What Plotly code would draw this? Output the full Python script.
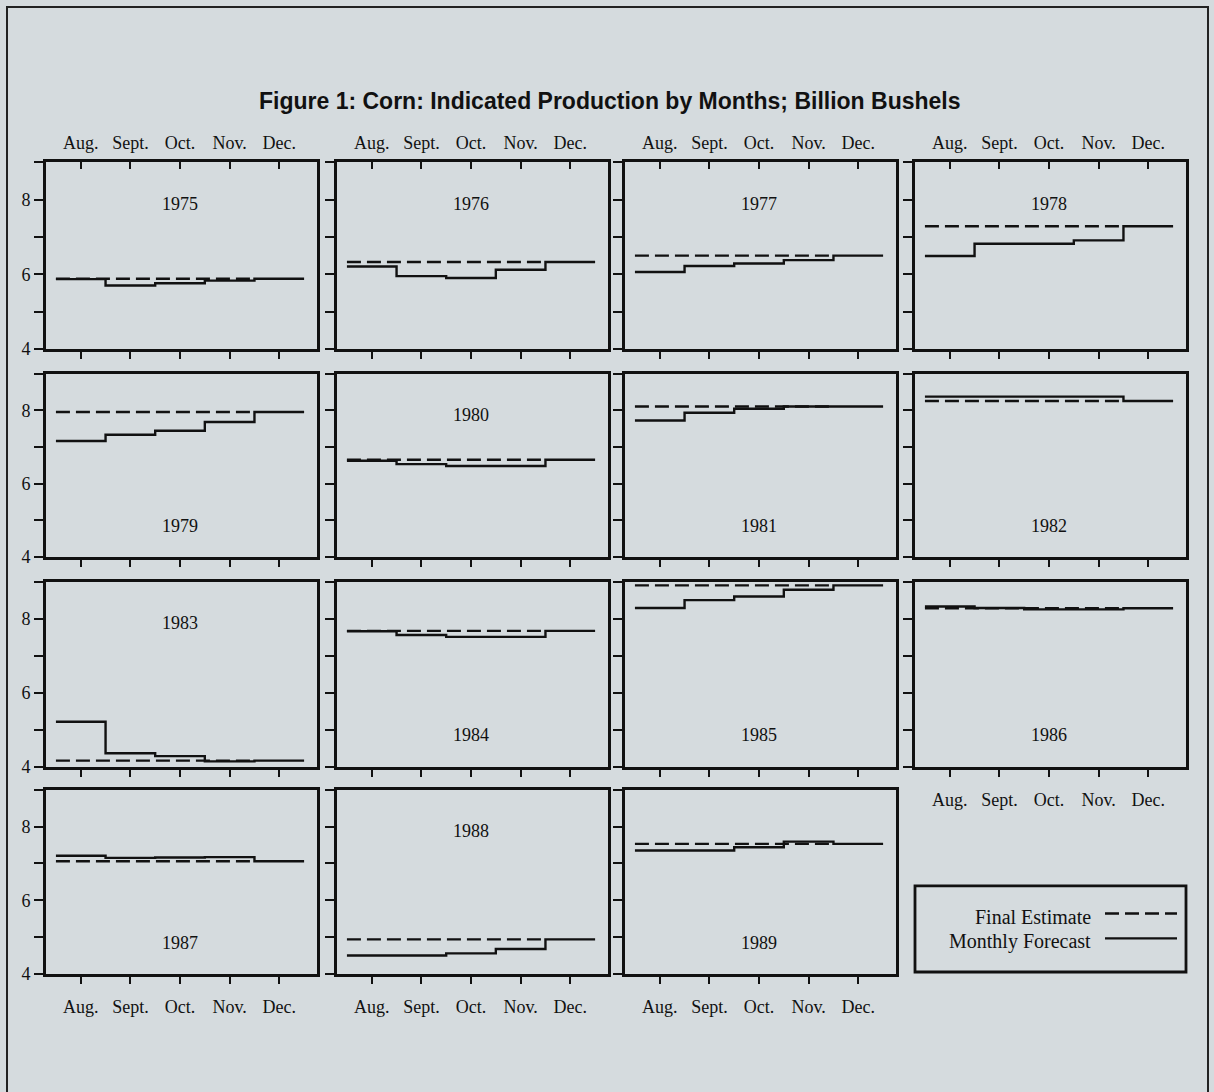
import plotly.graph_objects as go

W, H = 1214, 1092

# ---------------- data ----------------
years = [1975, 1976, 1977, 1978, 1979, 1980, 1981, 1982,
         1983, 1984, 1985, 1986, 1987, 1988, 1989]
months = ["Aug.", "Sept.", "Oct.", "Nov.", "Dec."]
month_idx = [1, 2, 3, 4, 5]

# Final estimate (billion bushels)
final_estimate = [5.88, 6.33, 6.50, 7.29, 7.95, 6.65, 8.10, 8.25,
                  4.17, 7.67, 8.90, 8.28, 7.06, 4.94, 7.53]

# Monthly forecasts Aug..Dec (billion bushels)
f1975 = [5.87, 5.70, 5.76, 5.83, 5.88]
f1976 = [6.21, 5.95, 5.90, 6.12, 6.33]
f1977 = [6.06, 6.22, 6.29, 6.38, 6.50]
f1978 = [6.49, 6.82, 6.82, 6.91, 7.29]
f1979 = [7.16, 7.33, 7.44, 7.68, 7.95]
f1980 = [6.62, 6.53, 6.48, 6.48, 6.65]
f1981 = [7.72, 7.93, 8.04, 8.10, 8.10]
f1982 = [8.37, 8.37, 8.37, 8.37, 8.25]
f1983 = [5.22, 4.37, 4.29, 4.15, 4.17]
f1984 = [7.66, 7.56, 7.51, 7.51, 7.67]
f1985 = [8.29, 8.50, 8.60, 8.78, 8.90]
f1986 = [8.33, 8.29, 8.25, 8.25, 8.28]
f1987 = [7.21, 7.15, 7.16, 7.17, 7.06]
f1988 = [4.50, 4.50, 4.56, 4.68, 4.94]
f1989 = [7.35, 7.35, 7.44, 7.59, 7.53]
forecasts = [f1975, f1976, f1977, f1978, f1979, f1980, f1981, f1982,
             f1983, f1984, f1985, f1986, f1987, f1988, f1989]

y_tickvals = [4, 5, 6, 7, 8, 9]
y_ticktext = ["4", "", "6", "", "8", ""]

# where the year label sits in each panel
label_side = ["top", "top", "top", "top", "bottom", "top", "bottom", "bottom",
              "top", "bottom", "bottom", "bottom", "bottom", "top", "bottom"]

# ---------------- layout geometry (pixels) ----------------
col_left = [46, 337, 625, 915]
col_width = 271
row_top = [164, 377, 587, 797]
row_bottom = [352, 562, 774, 983]
x_range = [0.3, 5.76]
y_range = [4, 9]

SERIF = "Liberation Serif"
SANS = "Liberation Sans"
BG = "#d5dbde"
INK = "#111111"
DASH = "14px,6px"

fig = go.Figure()
layout_axes = {}
annotations = []

edges = [m - 0.5 for m in month_idx] + [month_idx[-1] + 0.5]

for i, yr in enumerate(years):
    r, c = divmod(i, 4)
    k = i + 1
    xa = "x" if k == 1 else f"x{k}"
    ya = "y" if k == 1 else f"y{k}"

    fe = final_estimate[i]
    fig.add_trace(go.Scatter(
        x=[edges[0], edges[-2]], y=[fe, fe], mode="lines",
        line=dict(color=INK, width=2.4, dash=DASH),
        xaxis=xa, yaxis=ya, showlegend=False, hoverinfo="skip"))
    vals = forecasts[i]
    fig.add_trace(go.Scatter(
        x=edges, y=vals + [vals[-1]], mode="lines",
        line=dict(color=INK, width=2.4, shape="hv"),
        xaxis=xa, yaxis=ya, showlegend=False, hoverinfo="skip"))

    x0 = col_left[c] / W
    x1 = (col_left[c] + col_width) / W
    y0 = 1 - row_bottom[r] / H
    y1 = 1 - row_top[r] / H

    show_xlab = (r == 3) or (yr == 1986)
    layout_axes["xaxis" if k == 1 else f"xaxis{k}"] = dict(
        domain=[x0, x1], range=x_range, anchor=ya,
        tickmode="array", tickvals=month_idx, ticktext=months,
        showticklabels=show_xlab, ticks="outside", ticklen=7, tickwidth=2.2,
        tickcolor=INK, showline=True, linecolor=INK, linewidth=2.8,
        mirror=True, showgrid=False, zeroline=False, fixedrange=True,
        tickfont=dict(family=SERIF, size=18, color=INK),
        ticklabelstandoff=8)
    layout_axes["yaxis" if k == 1 else f"yaxis{k}"] = dict(
        domain=[y0, y1], range=y_range, anchor=xa,
        tickmode="array", tickvals=y_tickvals, ticktext=y_ticktext,
        showticklabels=(c == 0), ticks="outside", ticklen=9, tickwidth=2.2,
        tickcolor=INK, showline=True, linecolor=INK, linewidth=2.8,
        mirror=True, showgrid=False, zeroline=False, fixedrange=True,
        tickfont=dict(family=SERIF, size=18, color=INK))

    # top month axis for the first row
    if r == 0:
        tk = 16 + c
        fig.add_trace(go.Scatter(
            x=month_idx, y=[None] * len(month_idx), mode="lines",
            xaxis=f"x{tk}", yaxis=ya, showlegend=False, hoverinfo="skip"))
        layout_axes[f"xaxis{tk}"] = dict(
            overlaying=xa, anchor=ya, side="top", range=x_range,
            tickmode="array", tickvals=month_idx, ticktext=months,
            ticks="inside", ticklen=7, tickwidth=2.2, tickcolor=INK,
            showline=False, showgrid=False, zeroline=False, fixedrange=True,
            tickfont=dict(family=SERIF, size=18, color=INK),
            ticklabelstandoff=9)

    annotations.append(dict(
        x=3, y=7.88 if label_side[i] == "top" else 4.85,
        xref=xa, yref=ya, text=str(yr), showarrow=False,
        font=dict(family=SERIF, size=18, color=INK),
        xanchor="center", yanchor="middle"))

# title
annotations.append(dict(
    x=610 / W, y=1 - 102 / H, xref="paper", yref="paper",
    text="<b>Figure 1: Corn: Indicated Production by Months; Billion Bushels</b>",
    showarrow=False, font=dict(family=SANS, size=23, color=INK),
    xanchor="center", yanchor="middle"))

# legend (text first, line sample to the right)
annotations.append(dict(
    x=1093 / W, y=1 - 925 / H, xref="paper", yref="paper",
    text="Final Estimate", showarrow=False,
    font=dict(family=SERIF, size=20, color=INK),
    xanchor="right", yanchor="middle"))
annotations.append(dict(
    x=1093 / W, y=1 - 950 / H, xref="paper", yref="paper",
    text="Monthly Forecast", showarrow=False,
    font=dict(family=SERIF, size=20, color=INK),
    xanchor="right", yanchor="middle"))

shapes = [
    # outer frame of the scanned figure
    dict(type="rect", xref="paper", yref="paper",
         x0=7 / W, x1=1208 / W, y0=-0.05, y1=1 - 7 / H,
         line=dict(color="#222222", width=2)),
    # legend box
    dict(type="rect", xref="paper", yref="paper",
         x0=915 / W, x1=1186 / W, y0=1 - 981 / H, y1=1 - 894 / H,
         line=dict(color=INK, width=2.8)),
    dict(type="line", xref="paper", yref="paper",
         x0=1105 / W, x1=1177 / W, y0=1 - 922 / H, y1=1 - 922 / H,
         line=dict(color=INK, width=2.4, dash=DASH)),
    dict(type="line", xref="paper", yref="paper",
         x0=1105 / W, x1=1177 / W, y0=1 - 947 / H, y1=1 - 947 / H,
         line=dict(color=INK, width=2.4)),
]

fig.update_layout(
    width=W, height=H,
    margin=dict(l=0, r=0, t=0, b=0),
    paper_bgcolor=BG, plot_bgcolor=BG,
    showlegend=False,
    annotations=annotations,
    shapes=shapes,
    **layout_axes)

fig.write_html("out.html",
               config={"displayModeBar": False},
               post_script="document.body.style.margin='0';"
                           "document.body.style.background='" + BG + "';")
